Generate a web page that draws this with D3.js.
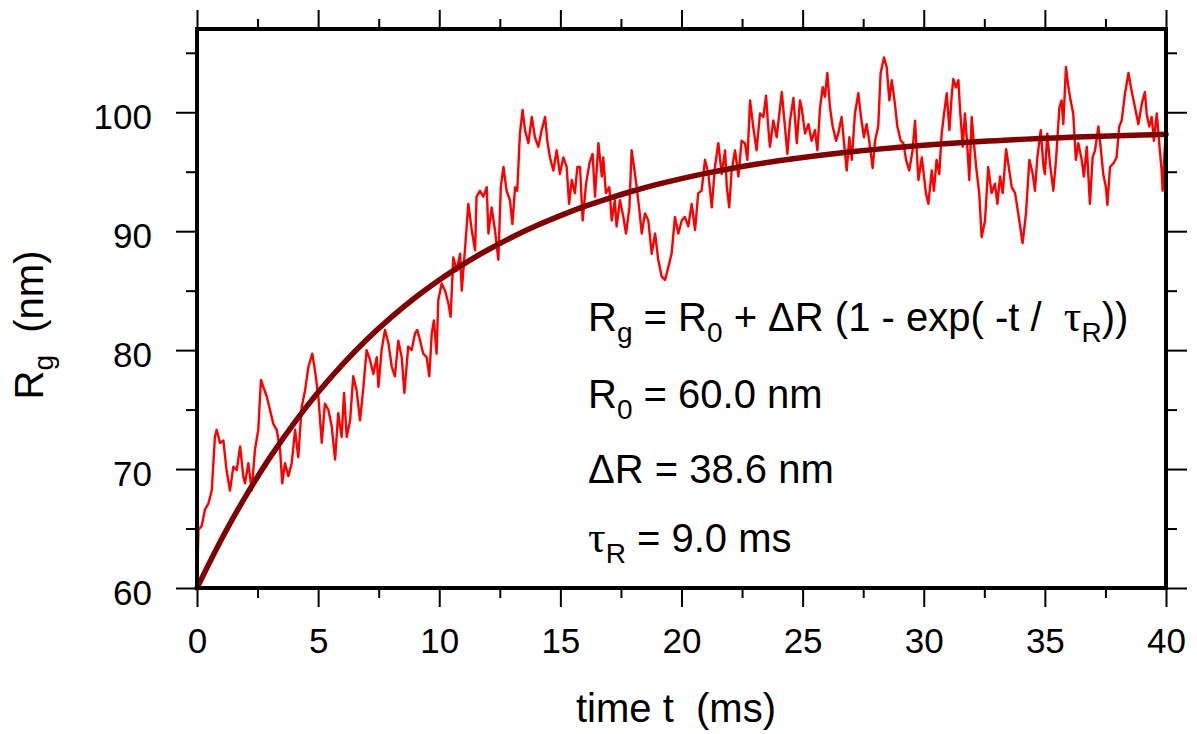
<!DOCTYPE html>
<html><head><meta charset="utf-8">
<script src="https://cdn.jsdelivr.net/npm/d3@7"></script>
<style>
body{margin:0;background:#fff}
svg{display:block}
text{font-family:"Liberation Sans",Arial,Helvetica,sans-serif;fill:#000}
</style>
</head><body>
<svg id="chart" width="1197" height="734"></svg>
<script>
// ---- data ----
const timeMs = [0,0.06,0.19,0.33,0.47,0.61,0.74,0.81,0.95,1.09,1.22,1.36,1.50,1.64,1.78,1.91,1.98,2.12,2.26,2.39,2.53,2.64,2.74,2.88,3.01,3.15,3.29,3.43,3.52,3.63,3.77,3.91,4.05,4.18,4.32,4.46,4.60,4.76,4.87,5.01,5.15,5.28,5.42,5.56,5.70,5.83,5.97,6.07,6.18,6.32,6.45,6.59,6.73,6.87,7.00,7.14,7.28,7.42,7.49,7.62,7.76,7.90,8.04,8.17,8.31,8.45,8.56,8.72,8.86,9.00,9.09,9.21,9.34,9.48,9.59,9.69,9.78,9.89,9.96,10.10,10.24,10.38,10.47,10.58,10.72,10.86,10.93,11.06,11.20,11.34,11.48,11.54,11.68,11.82,11.96,12.03,12.16,12.30,12.44,12.54,12.65,12.78,12.92,13.02,13.13,13.22,13.33,13.44,13.54,13.68,13.82,13.95,14.09,14.23,14.37,14.46,14.57,14.71,14.85,14.98,15.12,15.26,15.36,15.47,15.60,15.70,15.81,15.92,16.06,16.20,16.33,16.43,16.57,16.71,16.77,16.88,17.02,17.12,17.25,17.32,17.46,17.60,17.71,17.85,17.94,18.04,18.15,18.26,18.36,18.49,18.63,18.77,18.91,19.04,19.18,19.32,19.46,19.59,19.73,19.87,20.01,20.14,20.28,20.42,20.56,20.69,20.83,20.97,21.11,21.25,21.38,21.52,21.66,21.80,21.87,21.97,22.07,22.21,22.35,22.48,22.62,22.72,22.83,22.96,23.10,23.24,23.38,23.49,23.58,23.65,23.79,23.93,24.04,24.14,24.27,24.37,24.48,24.62,24.76,24.89,24.96,25.10,25.24,25.37,25.51,25.61,25.72,25.83,25.92,26.02,26.13,26.24,26.38,26.47,26.61,26.71,26.82,26.93,27.03,27.16,27.30,27.41,27.53,27.64,27.75,27.89,27.99,28.12,28.22,28.36,28.47,28.58,28.68,28.81,28.91,29.05,29.16,29.27,29.40,29.54,29.64,29.78,29.92,30.09,30.19,30.33,30.42,30.53,30.64,30.74,30.84,30.95,31.06,31.15,31.22,31.33,31.43,31.50,31.61,31.70,31.80,31.88,31.98,32.07,32.18,32.29,32.39,32.53,32.66,32.80,32.94,33.04,33.15,33.26,33.40,33.53,33.63,33.77,33.90,34.08,34.22,34.36,34.50,34.59,34.69,34.83,34.94,35.00,35.10,35.21,35.35,35.46,35.60,35.69,35.76,35.87,35.97,36.06,36.17,36.28,36.38,36.52,36.61,36.73,36.86,36.97,37.07,37.21,37.30,37.41,37.52,37.58,37.69,37.83,37.96,38.07,38.17,38.31,38.45,38.58,38.72,38.86,39.00,39.13,39.20,39.31,39.41,39.50,39.62,39.72,39.82,39.86,39.96,40.00];
const rgNm = [60.4,64.9,65.2,66.6,67.1,68.2,72.7,73.3,72.2,72.4,69.9,68.2,70.2,69.9,71.9,69.4,68.8,70.5,68.2,71.6,73.3,77.5,76.9,76.1,75.0,73.8,73.3,71.6,68.8,70.5,69.4,70.5,73.3,71.0,75.2,76.6,78.6,79.7,78.3,76.1,72.2,75.5,75.0,73.6,70.8,74.7,72.7,76.4,72.7,74.1,77.8,76.6,74.1,76.9,80.0,79.2,78.0,79.4,76.9,80.0,81.7,80.6,78.6,77.8,80.8,79.4,76.4,80.3,80.0,81.4,81.7,80.8,79.7,79.4,77.8,81.4,82.5,79.7,84.2,85.6,85.0,83.9,82.8,87.8,86.7,88.1,85.0,88.4,92.3,90.1,88.4,92.9,93.4,92.9,93.7,89.8,92.0,90.1,87.6,93.7,95.4,93.4,92.6,90.6,93.7,93.4,98.2,100.2,98.5,97.4,99.6,97.9,97.1,98.5,99.6,97.6,96.2,95.1,96.8,94.8,96.2,95.4,92.3,94.3,93.2,95.4,95.4,90.9,94.0,95.7,96.5,92.9,97.4,94.6,96.2,93.2,93.7,90.9,92.6,90.4,92.6,91.2,89.8,92.0,96.8,95.4,93.7,91.8,89.8,91.5,90.9,88.1,89.8,87.6,86.2,85.9,87.0,88.1,91.2,89.8,90.9,91.2,90.4,92.3,90.1,93.2,93.4,96.0,94.8,92.0,95.4,97.4,94.8,96.8,93.7,92.0,95.1,96.8,94.6,97.6,97.4,96.0,101.0,98.8,96.8,99.9,99.6,101.4,98.8,97.1,99.3,97.9,99.9,101.7,98.8,96.5,99.3,101.2,97.4,101.0,100.4,98.2,99.0,97.6,98.5,96.8,100.4,102.1,101.3,103.3,100.4,98.8,97.6,98.2,99.6,97.4,95.1,97.9,96.0,99.9,101.6,99.6,97.9,99.0,97.6,95.3,97.6,98.8,103.3,104.6,103.8,101.0,102.7,100.7,98.8,97.6,97.4,96.0,95.1,96.8,99.3,94.3,96.2,93.2,92.3,95.1,93.4,96.0,94.8,98.2,99.9,101.6,98.5,101.3,102.8,102.1,102.7,100.2,97.1,99.9,97.1,94.3,99.6,97.4,95.1,93.2,89.5,90.9,95.4,93.2,94.0,92.3,94.6,93.2,96.9,95.1,93.7,93.2,91.5,89.0,91.5,96.0,94.8,93.4,96.2,98.5,95.5,94.8,98.2,95.7,93.4,96.0,100.4,101.0,99.0,103.8,102.1,101.0,99.9,96.0,97.4,96.0,94.6,97.1,92.3,96.2,96.8,98.8,97.1,94.8,93.7,92.2,95.4,95.7,96.2,98.8,99.3,101.6,103.3,101.8,100.4,99.0,100.7,101.7,99.9,98.8,99.6,97.6,99.9,97.4,95.1,93.4,97.4,96.5];

const fitTimeMs = [0,1,2,3,4,5,6,7,8,9,10,11,12,13,14,15,16,17,18,19,20,21,22,23,24,25,26,27,28,29,30,31,32,33,34,35,36,37,38,39,40];
const fitRgNm = [60.00,64.06,67.69,70.94,73.85,76.45,78.78,80.87,82.73,84.40,85.89,87.23,88.42,89.49,90.45,91.31,92.08,92.76,93.38,93.93,94.42,94.86,95.25,95.60,95.92,96.20,96.45,96.68,96.88,97.06,97.22,97.37,97.50,97.61,97.72,97.81,97.89,97.97,98.03,98.09,98.15];

const xMajorTicks = [0,5,10,15,20,25,30,35,40];
const xMinorTicks = [2.5,7.5,12.5,17.5,22.5,27.5,32.5,37.5];
const yMajorTicks = [60,70,80,90,100];
const yMinorTicks = [65,75,85,95,105];
const xTitle = "time t  (ms)";

// ---- drawing ----
const svg = d3.select("#chart");
const L = 197, R = 1166, T = 29, B = 588;
const x = d3.scaleLinear().domain([0, 40]).range([L, R]);
const y = d3.scaleLinear().domain([60, 107]).range([B, T]);
const TICK_FS = 35, TITLE_FS = 40, ANN_FS = 40, SUB_FS = 28;

function styleAxis(g){
  g.select(".domain").remove();
  g.selectAll(".tick line").attr("stroke","#000").attr("stroke-width",2);
  g.selectAll(".tick text").attr("font-size",TICK_FS).attr("font-family",'"Liberation Sans",Arial,sans-serif').attr("fill","#000");
}

// bottom
svg.append("g").attr("transform",`translate(0,${B})`)
  .call(d3.axisBottom(x).tickValues(xMajorTicks).tickSize(19).tickPadding(21).tickFormat(d3.format("d")))
  .call(styleAxis);
svg.append("g").attr("transform",`translate(0,${B})`)
  .call(d3.axisBottom(x).tickValues(xMinorTicks).tickSize(10).tickFormat(""))
  .call(styleAxis);
// top
svg.append("g").attr("transform",`translate(0,${T})`)
  .call(d3.axisTop(x).tickValues(xMajorTicks).tickSize(19).tickFormat(""))
  .call(styleAxis);
svg.append("g").attr("transform",`translate(0,${T})`)
  .call(d3.axisTop(x).tickValues(xMinorTicks).tickSize(10).tickFormat(""))
  .call(styleAxis);
// left
svg.append("g").attr("transform",`translate(${L},0)`)
  .call(d3.axisLeft(y).tickValues(yMajorTicks).tickSize(21).tickPadding(24).tickFormat(d3.format("d")))
  .call(styleAxis)
  .call(g => g.selectAll(".tick text").attr("dy","0.47em"));
svg.append("g").attr("transform",`translate(${L},0)`)
  .call(d3.axisLeft(y).tickValues(yMinorTicks).tickSize(11).tickFormat(""))
  .call(styleAxis);
// right
svg.append("g").attr("transform",`translate(${R},0)`)
  .call(d3.axisRight(y).tickValues(yMajorTicks).tickSize(21).tickFormat(""))
  .call(styleAxis);
svg.append("g").attr("transform",`translate(${R},0)`)
  .call(d3.axisRight(y).tickValues(yMinorTicks).tickSize(11).tickFormat(""))
  .call(styleAxis);

// data lines
const rawLine = d3.line().x((d,i)=>x(timeMs[i])).y(d=>y(d));
svg.append("path").datum(rgNm)
  .attr("d", rawLine)
  .attr("fill","none").attr("stroke","#ff0000").attr("stroke-width",2.4).attr("stroke-linejoin","round");

const fitLine = d3.line().x((d,i)=>x(fitTimeMs[i])).y(d=>y(d)).curve(d3.curveMonotoneX);
svg.append("path").datum(fitRgNm)
  .attr("d", fitLine)
  .attr("fill","none").attr("stroke","#800000").attr("stroke-width",5.5).attr("stroke-linecap","round");

// frame
svg.append("rect").attr("x",L).attr("y",T).attr("width",R-L).attr("height",B-T)
  .attr("fill","none").attr("stroke","#000").attr("stroke-width",4);

// axis titles
svg.append("text").attr("x",676).attr("y",722).attr("text-anchor","middle")
  .attr("font-size",TITLE_FS).style("white-space","pre").text(xTitle);

const yt = svg.append("text").attr("transform","translate(43,325) rotate(-90)")
  .attr("text-anchor","middle").attr("font-size",TITLE_FS).style("white-space","pre");
yt.append("tspan").text("R");
yt.append("tspan").attr("font-size",SUB_FS).attr("dy",10).text("g");
yt.append("tspan").attr("dy",-10).text("  (nm)");

// annotation
const ax = 588;
function addLine(yy, parts){
  const t = svg.append("text").attr("x",ax).attr("y",yy).attr("font-size",ANN_FS).style("white-space","pre");
  let shift = 0;
  parts.forEach(p=>{
    const s = t.append("tspan").text(p.t);
    const target = p.sub ? 11 : 0;
    if (target !== shift){ s.attr("dy", target - shift); shift = target; }
    if (p.sub) s.attr("font-size",SUB_FS);
    if (p.serif) s.attr("font-family",'"Liberation Serif","DejaVu Serif",serif').attr("font-size",44);
  });
}
addLine(331,[{t:"R"},{t:"g",sub:true},{t:" = R"},{t:"0",sub:true},{t:" + \u0394R (1 - exp( -t /  "},{t:"\u03c4",serif:true},{t:"R",sub:true},{t:"))"}]);
addLine(408,[{t:"R"},{t:"0",sub:true},{t:" = 60.0 nm"}]);
addLine(483,[{t:"\u0394R = 38.6 nm"}]);
addLine(552,[{t:"\u03c4",serif:true},{t:"R",sub:true},{t:" = 9.0 ms"}]);
</script>
</body></html>
